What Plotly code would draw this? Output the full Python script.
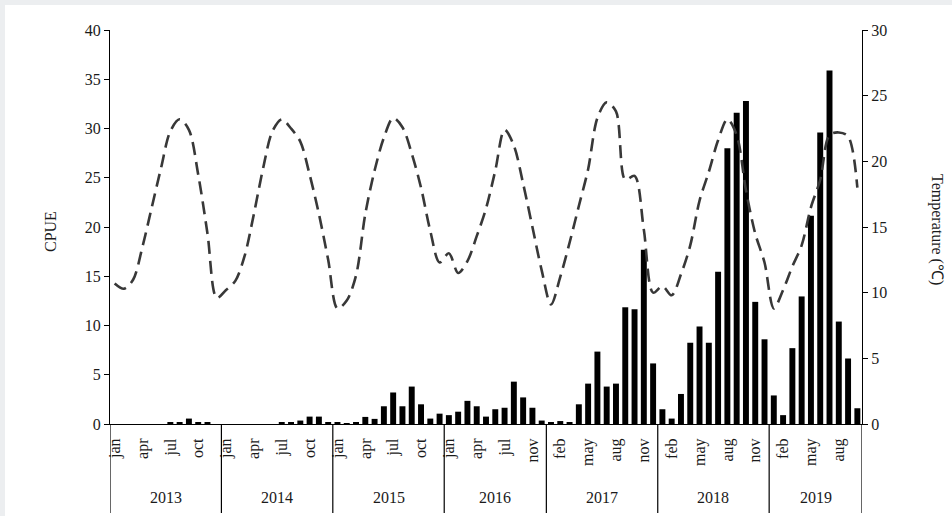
import plotly.graph_objects as go

# Monthly sampling calendar (2016 has one month without a survey)
years = ["2013", "2014", "2015", "2016", "2017", "2018", "2019"]
months_by_year = [
    ["jan", "feb", "mar", "apr", "may", "jun", "jul", "aug", "sep", "oct", "nov", "dec"],
    ["jan", "feb", "mar", "apr", "may", "jun", "jul", "aug", "sep", "oct", "nov", "dec"],
    ["jan", "feb", "mar", "apr", "may", "jun", "jul", "aug", "sep", "oct", "nov", "dec"],
    ["jan", "feb", "mar", "apr", "may", "jun", "jul", "aug", "sep", "nov", "dec"],
    ["jan", "feb", "mar", "apr", "may", "jun", "jul", "aug", "sep", "oct", "nov", "dec"],
    ["jan", "feb", "mar", "apr", "may", "jun", "jul", "aug", "sep", "oct", "nov", "dec"],
    ["jan", "feb", "mar", "apr", "may", "jun", "jul", "aug", "sep", "oct"],
]

# Catch per unit effort, one value per sampled month
cpue = [
    0, 0, 0, 0, 0, 0, 0.15, 0.15, 0.55, 0.2, 0.15, 0,
    0, 0, 0, 0, 0, 0, 0.15, 0.15, 0.35, 0.75, 0.75, 0.2,
    0.15, 0.1, 0.15, 0.72, 0.52, 1.8, 3.2, 1.8, 3.8, 2.0, 0.55, 1.05,
    0.9, 1.25, 2.35, 1.8, 0.75, 1.5, 1.65, 4.3, 2.7, 1.65, 0.35,
    0.15, 0.3, 0.2, 2.0, 4.1, 7.35, 3.8, 4.1, 11.85, 11.65, 17.7, 6.15,
    1.5, 0.55, 3.05, 8.25, 9.9, 8.25, 15.45, 28.0, 31.6, 32.8, 12.4, 8.6,
    2.9, 0.9, 7.7, 12.95, 21.15, 29.6, 35.9, 10.4, 6.65, 1.6,
]

# Monthly water temperature (deg C)
temperature = [
    10.7, 10.3, 11.0, 13.5, 16.5, 19.5, 22.3, 23.2, 22.4, 19.0, 14.5, 9.6,
    10.2, 10.9, 12.8, 16.0, 19.5, 22.3, 23.2, 22.5, 21.5, 19.0, 16.0, 12.5,
    8.8, 9.4, 11.3, 16.0, 19.3, 21.8, 23.3, 22.6, 20.6, 18.0, 14.7, 12.3,
    13.0, 11.5, 12.4, 14.3, 16.4, 19.3, 22.4, 21.2, 18.3, 15.0, 11.7,
    9.1, 11.2, 13.8, 16.6, 19.4, 23.3, 24.5, 23.8, 18.6, 18.9, 14.8, 10.0,
    10.5, 9.8, 11.4, 13.6, 17.0, 19.2, 21.6, 23.2, 22.0, 17.8, 14.5, 12.3,
    8.8, 10.2, 12.0, 13.6, 16.5, 18.6, 22.0, 22.2, 21.9, 18.0,
]

month_labels = [m for ms in months_by_year for m in ms]
idx = list(range(len(month_labels)))

# Plot-area geometry in pixels
W, H = 952, 516
L, R, T, B = 110, 90, 30, 92
PW, PH = W - L - R, H - T - B


def px_x(p):
    return (p - L) / PW


def px_y(p):
    return (H - B - p) / PH


SERIF = "Liberation Serif, Times New Roman, serif"
INK = "#1a1a1a"

fig = go.Figure()
fig.add_trace(go.Bar(
    x=idx, y=cpue, width=0.64,
    marker=dict(color="#000000", line=dict(width=0)),
    showlegend=False,
))
fig.add_trace(go.Scatter(
    x=idx, y=temperature, yaxis="y2", mode="lines",
    line=dict(color="#383838", width=2.6, dash="13px,7px", shape="spline", smoothing=0.9),
    showlegend=False,
))

# every third month is labelled on the axis
tick_vals = [i for i in idx if i % 3 == 0]
tick_text = [month_labels[i] for i in tick_vals]

shapes = [
    # white card on the light-grey page
    dict(type="rect", xref="paper", yref="paper", layer="below",
         x0=px_x(5), x1=px_x(W + 2), y0=px_y(H + 2), y1=px_y(5),
         fillcolor="white", line=dict(width=0)),
]
annotations = []
start = 0
bounds = [0]
for yr, ms in zip(years, months_by_year):
    end = start + len(ms)
    bounds.append(end)
    annotations.append(dict(
        x=(start + end - 1) / 2, xref="x", y=px_y(497), yref="paper",
        xanchor="center", yanchor="middle",
        text=yr, showarrow=False, font=dict(family=SERIF, size=16, color=INK),
    ))
    start = end
for b in bounds:
    shapes.append(dict(type="line", xref="x", yref="paper",
                       x0=b - 0.5, x1=b - 0.5, y0=0, y1=px_y(513),
                       line=dict(color="black", width=1.2)))

annotations.append(dict(
    x=px_x(50), y=px_y(232), xref="paper", yref="paper", text="CPUE",
    xanchor="center", yanchor="middle",
    textangle=-90, showarrow=False, font=dict(family=SERIF, size=16, color=INK),
))
annotations.append(dict(
    x=px_x(937), y=px_y(230), xref="paper", yref="paper", text="Temperature (\u2103)",
    xanchor="center", yanchor="middle",
    textangle=90, showarrow=False, font=dict(family=SERIF, size=16, color=INK),
))

fig.update_layout(
    width=W, height=H,
    margin=dict(l=L, r=R, t=T, b=B, pad=0),
    paper_bgcolor="#eceef0", plot_bgcolor="white",
    bargap=0.3,
    xaxis=dict(
        range=[-0.5, len(idx) - 0.5], tickvals=tick_vals, ticktext=tick_text,
        tickangle=-90, ticks="", ticklabelstandoff=7, showgrid=False, zeroline=False,
        showline=True, linecolor="black", linewidth=1.2,
        tickfont=dict(family=SERIF, size=16, color=INK),
    ),
    yaxis=dict(
        range=[0, 40], dtick=5, ticks="outside", ticklen=5, tickcolor="black",
        showline=True, linecolor="black", linewidth=1.2, showgrid=False, zeroline=False,
        tickfont=dict(family=SERIF, size=16, color=INK),
    ),
    yaxis2=dict(
        range=[0, 30], dtick=5, overlaying="y", side="right",
        ticks="outside", ticklen=5, tickcolor="black",
        showline=True, linecolor="black", linewidth=1.2, showgrid=False, zeroline=False,
        tickfont=dict(family=SERIF, size=16, color=INK),
    ),
    shapes=shapes,
    annotations=annotations,
)

fig.write_html("out.html")
